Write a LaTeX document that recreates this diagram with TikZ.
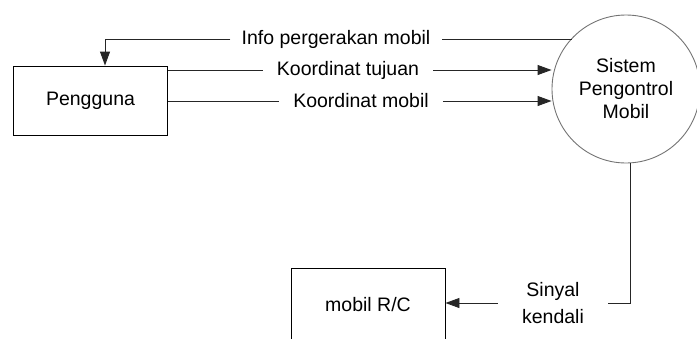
\documentclass[tikz,border=0pt]{standalone}
\usepackage{fontspec}
\setmainfont{Liberation Sans}
\usetikzlibrary{arrows.meta}
\begin{document}
\begin{tikzpicture}[x=1pt,y=-1pt,
  every node/.style={font=\fontsize{19.5}{23}\selectfont},
  entity/.style={draw=black,line width=0.9pt,minimum width=154pt,inner sep=0pt},
  process/.style={draw=black!55,line width=0.9pt,circle,minimum size=148pt,inner sep=0pt,align=center},
  flowlabel/.style={inner xsep=14pt,inner ysep=2pt},
  flow/.style={line width=0.9pt,draw=black!85},
  tip/.style={-{Triangle[length=14pt,width=10pt]}}]
  \useasboundingbox (0,0) rectangle (697,338);

  % external entities and the process
  \node[entity,minimum height=69pt] (peng) at (90.5,100.5) {Pengguna};
  \node[entity,minimum height=74pt] (rc) at (368,305) {mobil R/C};
  \node[process] (sys) at (626,89) {Sistem\\Pengontrol\\Mobil};

  % flow labels
  \node[flowlabel,inner xsep=11pt] (info) at (336,39) {Info pergerakan mobil};
  \node[flowlabel] (kt) at (348,70) {Koordinat tujuan};
  \node[flowlabel] (km) at (361,101) {Koordinat mobil};
  \node[flowlabel,inner xsep=24pt,align=center,font=\fontsize{19.5}{27}\selectfont] (sk) at (553,303) {Sinyal\\kendali};

  % connector end points
  \coordinate (infodrop) at (105,39);
  \path (sys.center) ++(-54.5,-50) coordinate (sysinfo);
  \path (sys.south) ++(4,0) coordinate (sysout);

  % process -> user
  \draw[flow] (sysinfo) -- (info.east);
  \draw[flow,tip] (info.west) -- (infodrop) -- (infodrop |- peng.north);

  % user -> process
  \draw[flow] (peng.east |- kt) -- (kt.west);
  \draw[flow,tip] (kt.east) -- (sys.west |- kt);
  \draw[flow] (peng.east |- km) -- (km.west);
  \draw[flow,tip] (km.east) -- (sys.west |- km);

  % process -> car
  \draw[flow] (sysout) |- (sk.east);
  \draw[flow,tip] (sk.west) -- (rc.east |- sk);
\end{tikzpicture}
\end{document}
